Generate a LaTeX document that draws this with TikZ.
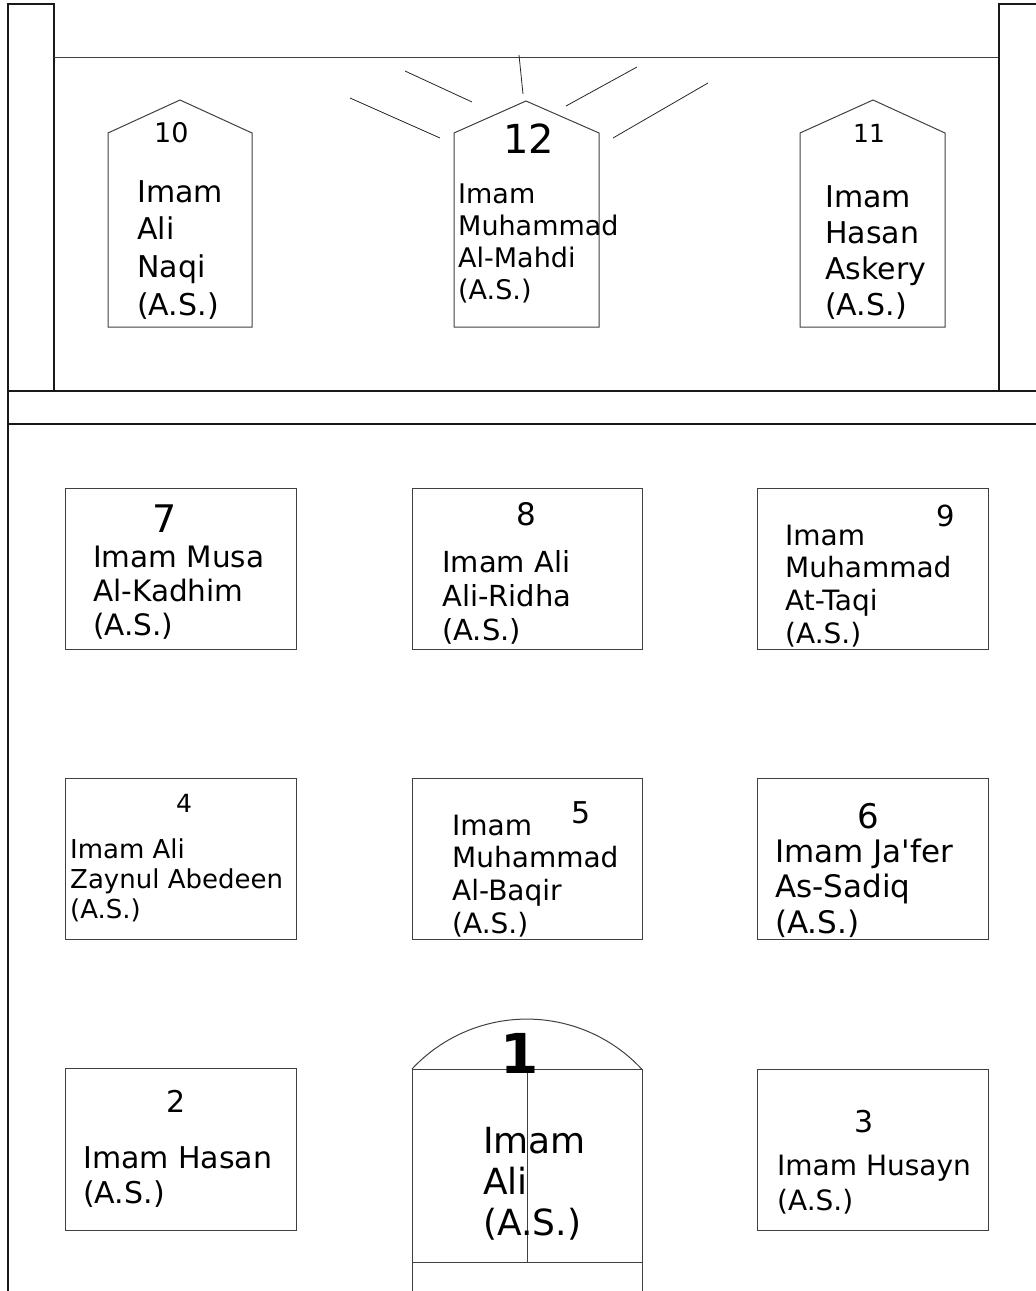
\documentclass[tikz,border=0pt]{standalone}
\usepackage{fontspec}
\setmainfont{DejaVu Sans}
\newcommand\fs[2]{\fontsize{#1}{#2}\selectfont}
\tikzset{
  wall/.style={line width=1.2pt, draw=black!90},
  thin/.style={line width=1pt, draw=black!75},
  ray/.style={line width=0.8pt, draw=black!85},
  lbl/.style={anchor=base west, inner sep=0pt, text width=300pt, align=flush left},
}
\begin{document}
\begin{tikzpicture}[x=1pt,y=-1pt]
\useasboundingbox (0,0) rectangle (1036,1291);
% walls
\draw[wall] (8,1291) -- (8,4) -- (54,4) -- (54,391);
\draw[thin] (54,57) -- (999,57);
\draw[wall] (1036,4) -- (999,4) -- (999,391);
\draw[wall] (8,391) -- (1036,391);
\draw[wall] (8,424) -- (1036,424);
% top tombs
\draw[thin] (108,327) -- (108,133) -- (180,100) -- (252,133) -- (252,327) -- cycle;
\draw[thin] (454,327) -- (454,133) -- (526,101) -- (599,133) -- (599,327) -- cycle;
\draw[thin] (800,327) -- (800,133) -- (873,100) -- (945,133) -- (945,327) -- cycle;
% rays
\draw[ray] (519,55) -- (523,94);
\draw[ray] (405,71) -- (472,102);
\draw[ray] (350,98) -- (440,138);
\draw[ray] (566,106) -- (637,67);
\draw[ray] (613,138) -- (708,83);
% boxes
\draw[thin] (65,488) rectangle (296,649);
\draw[thin] (412,488) rectangle (642,649);
\draw[thin] (757,488) rectangle (988,649);
\draw[thin] (65,778) rectangle (296,939);
\draw[thin] (412,778) rectangle (642,939);
\draw[thin] (757,778) rectangle (988,939);
\draw[thin] (65,1068) rectangle (296,1230);
\draw[thin] (757,1069) rectangle (988,1230);
% Imam Ali tomb
\draw[thin] (412,1291) -- (412,1069) -- (642,1069) -- (642,1291);
\draw[thin] (412,1069) arc[start angle=-137, end angle=-43, radius=157];
\draw[thin] (527,1069) -- (527,1262);
\draw[thin] (412,1262) -- (642,1262);
% labels
\node[lbl, font=\fs{27}{30}] (n10) at (154,142) {10};
\node[lbl, font=\fs{30}{37.7}] (t10) at (137,202) {Imam\\Ali\\Naqi\\(A.S.)};
\node[lbl, font=\fs{40}{44}] (n12) at (503,153) {12};
\node[lbl, font=\fs{27}{32}] (t12) at (458,203) {Imam\\Muhammad\\Al-Mahdi\\(A.S.)};
\node[lbl, font=\fs{25}{28}] (n11) at (853,142) {11};
\node[lbl, font=\fs{30}{36}] (t11) at (825,207) {Imam\\Hasan\\Askery\\(A.S.)};
\node[lbl, font=\fs{38}{42}] (n7) at (152,532) {7};
\node[lbl, font=\fs{29.5}{34}] (t7) at (93,567) {Imam Musa\\Al-Kadhim\\(A.S.)};
\node[lbl, font=\fs{31}{34}] (n8) at (516,525) {8};
\node[lbl, font=\fs{29}{34}] (t8) at (442,572) {Imam Ali\\Ali-Ridha\\(A.S.)};
\node[lbl, font=\fs{29}{32}] (n9) at (936,526) {9};
\node[lbl, font=\fs{28}{32.7}] (t9) at (785,545) {Imam\\Muhammad\\At-Taqi\\(A.S.)};
\node[lbl, font=\fs{25}{28}] (n4) at (176,812) {4};
\node[lbl, font=\fs{26}{30}] (t4) at (70,858) {Imam Ali\\Zaynul Abedeen\\(A.S.)};
\node[lbl, font=\fs{30}{34}] (n5) at (571,823) {5};
\node[lbl, font=\fs{28}{32.7}] (t5) at (452,835) {Imam\\Muhammad\\Al-Baqir\\(A.S.)};
\node[lbl, font=\fs{34}{38}] (n6) at (857,828) {6};
\node[lbl, font=\fs{31}{35.5}] (t6) at (775,862) {Imam Ja\textquotesingle fer\\As-Sadiq\\(A.S.)};
\node[lbl, font=\fs{30}{34}] (n2) at (166,1112) {2};
\node[lbl, font=\fs{30}{35}] (t2) at (83,1168) {Imam Hasan\\(A.S.)};
\node[lbl, font=\fs{30}{34}] (n3) at (854,1132) {3};
\node[lbl, font=\fs{28}{35}] (t3) at (777,1175) {Imam Husayn\\(A.S.)};
\node[lbl, font=\fs{55}{60}\bfseries] (n1) at (500,1073) {1};
\node[lbl, font=\fs{36}{41}] (t1) at (483,1153) {Imam\\Ali\\(A.S.)};
\end{tikzpicture}
\end{document}
